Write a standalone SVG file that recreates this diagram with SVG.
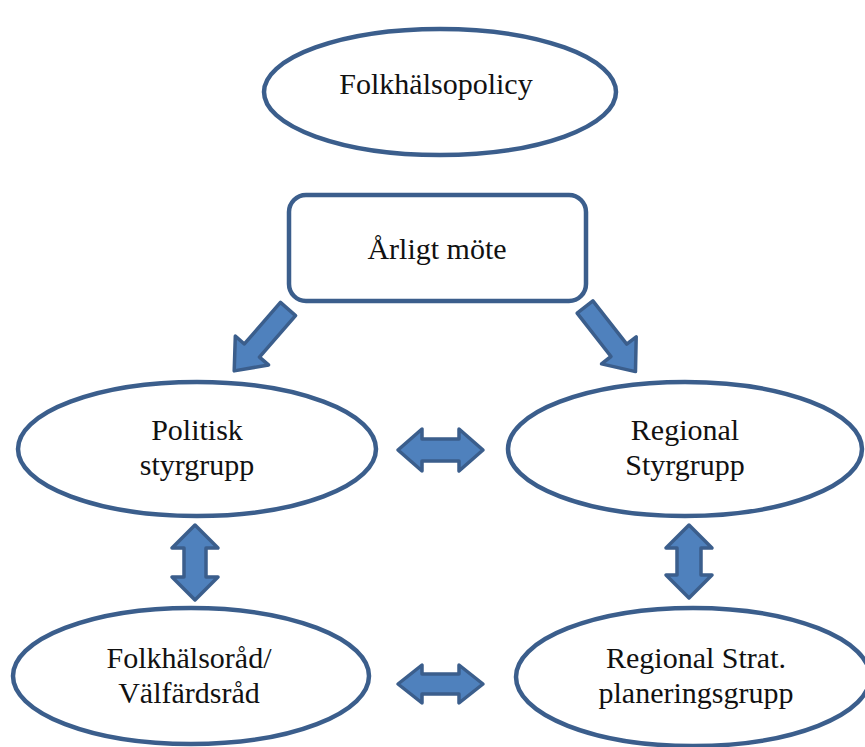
<svg xmlns="http://www.w3.org/2000/svg" width="865" height="747" viewBox="0 0 865 747">
<style>
.node{fill:#ffffff;stroke:#3B5E8C;stroke-width:4.5}
.arr{fill:#4F81BD;stroke:#3B5E8C;stroke-width:3.5;stroke-linejoin:round}
text{font-family:"Liberation Serif","Times New Roman",serif;font-size:30px;fill:#111;text-anchor:middle}
</style>
<rect width="865" height="747" fill="#ffffff"/>
<g id="folkhalsopolicy">
<ellipse class="node" cx="440" cy="92" rx="176" ry="63"/>
<text x="436" y="94">Folkhälsopolicy</text>
</g>
<g id="arligt-mote">
<rect class="node" x="289" y="195" width="297" height="106" rx="17"/>
<text x="437" y="259">Årligt möte</text>
</g>
<g id="politisk-styrgrupp">
<ellipse class="node" cx="197" cy="449" rx="179" ry="67"/>
<text x="197" y="440">Politisk</text>
<text x="197" y="475">styrgrupp</text>
</g>
<g id="regional-styrgrupp">
<ellipse class="node" cx="685" cy="449" rx="177" ry="67"/>
<text x="685" y="440">Regional</text>
<text x="685" y="475">Styrgrupp</text>
</g>
<g id="folkhalsorad">
<ellipse class="node" cx="191" cy="676" rx="178" ry="68"/>
<text x="189" y="668">Folkhälsoråd/</text>
<text x="189" y="703">Välfärdsråd</text>
</g>
<g id="regional-strat">
<ellipse class="node" cx="693" cy="677" rx="177" ry="69"/>
<text x="696" y="668">Regional Strat.</text>
<text x="696" y="703">planeringsgrupp</text>
</g>
<g id="connectors">
<path class="arr" transform="translate(288,309) rotate(131)" d="M0,-10 L55,-10 L55,-22 L82,0 L55,22 L55,10 L0,10 Z"/>
<path class="arr" transform="translate(585,307) rotate(52)" d="M0,-10 L55,-10 L55,-22 L82,0 L55,22 L55,10 L0,10 Z"/>
<path class="arr" d="M398,450 L422,429 L422,439 L459,439 L459,429 L483,450 L459,471 L459,461 L422,461 L422,471 Z"/>
<path class="arr" d="M398,684 L422,665 L422,674 L459,674 L459,665 L483,684 L459,703 L459,694 L422,694 L422,703 Z"/>
<path class="arr" d="M195,525 L218,548 L206,548 L206,577 L218,577 L195,600 L172,577 L184,577 L184,548 L172,548 Z"/>
<path class="arr" d="M689,525 L712,548 L701,548 L701,575 L712,575 L689,598 L666,575 L677,575 L677,548 L666,548 Z"/>
</g>
</svg>
